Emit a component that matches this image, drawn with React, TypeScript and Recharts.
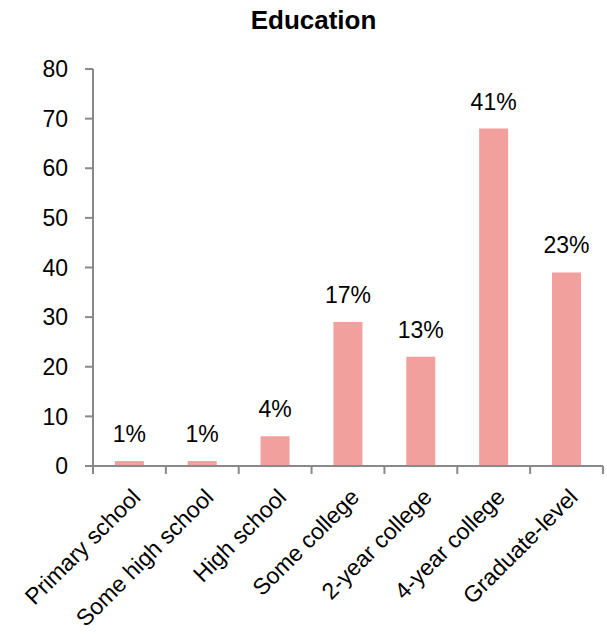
import { BarChart, Bar, XAxis, YAxis, LabelList } from "recharts";

const categories = [
  "Primary school",
  "Some high school",
  "High school",
  "Some college",
  "2-year college",
  "4-year college",
  "Graduate-level",
];
const counts = [1, 1, 6, 29, 22, 68, 39];
const shares = ["1%", "1%", "4%", "17%", "13%", "41%", "23%"];
const yTicks = [0, 10, 20, 30, 40, 50, 60, 70, 80];

const W = 607;
const H = 636;
const LEFT = 93;
const RIGHT = 4;
const PLOT_W = W - LEFT - RIGHT;
const AXIS = "#898989";
const FONT = "'Liberation Sans', Arial, sans-serif";

const data = categories.map((name, i) => ({
  name,
  count: counts[i],
  share: shares[i],
}));

function XTick(props: any) {
  const { x, y, payload, index } = props;
  const bw = PLOT_W / categories.length;
  const last = index === categories.length - 1;
  return (
    <g transform={`translate(${x},${y})`}>
      <line x1={-bw / 2} y1={0} x2={-bw / 2} y2={8} stroke={AXIS} strokeWidth={2} />
      {last && <line x1={bw / 2} y1={0} x2={bw / 2} y2={8} stroke={AXIS} strokeWidth={2} />}
      <text
        x={1}
        y={21}
        dy="0.71em"
        textAnchor="end"
        transform="rotate(-45, 1, 21)"
        fill="#000"
        fontSize={23}
        fontFamily={FONT}
      >
        {payload.value}
      </text>
    </g>
  );
}

export default function App() {
  return (
    <div style={{ position: "absolute", left: 0, top: 0, width: W, height: H, background: "#fff" }}>
      <div
        style={{
          position: "absolute",
          left: 0,
          top: 7,
          width: W,
          paddingLeft: 20,
          boxSizing: "border-box",
          textAlign: "center",
          fontFamily: FONT,
          fontWeight: "bold",
          fontSize: 26,
          lineHeight: "26px",
        }}
      >
        Education
      </div>
      <BarChart
        width={W}
        height={H}
        data={data}
        margin={{ top: 69, right: RIGHT, left: 0, bottom: 0 }}
        barCategoryGap="30%"
      >
        <XAxis
          dataKey="name"
          height={170}
          interval={0}
          axisLine={{ stroke: AXIS, strokeWidth: 2 }}
          tickLine={false}
          tickSize={0}
          tickMargin={0}
          tick={<XTick />}
        />
        <YAxis
          width={LEFT}
          domain={[0, 80]}
          ticks={yTicks}
          interval={0}
          axisLine={{ stroke: AXIS, strokeWidth: 2 }}
          tickLine={{ stroke: AXIS, strokeWidth: 2 }}
          tickSize={8}
          tickMargin={17}
          tick={{ fill: "#000", fontSize: 23, fontFamily: FONT }}
        />
        <Bar dataKey="count" fill="#F2A09E" isAnimationActive={false}>
          <LabelList
            dataKey="share"
            position="top"
            offset={19}
            fill="#000"
            fontSize={23}
            fontFamily={FONT}
          />
        </Bar>
      </BarChart>
    </div>
  );
}
